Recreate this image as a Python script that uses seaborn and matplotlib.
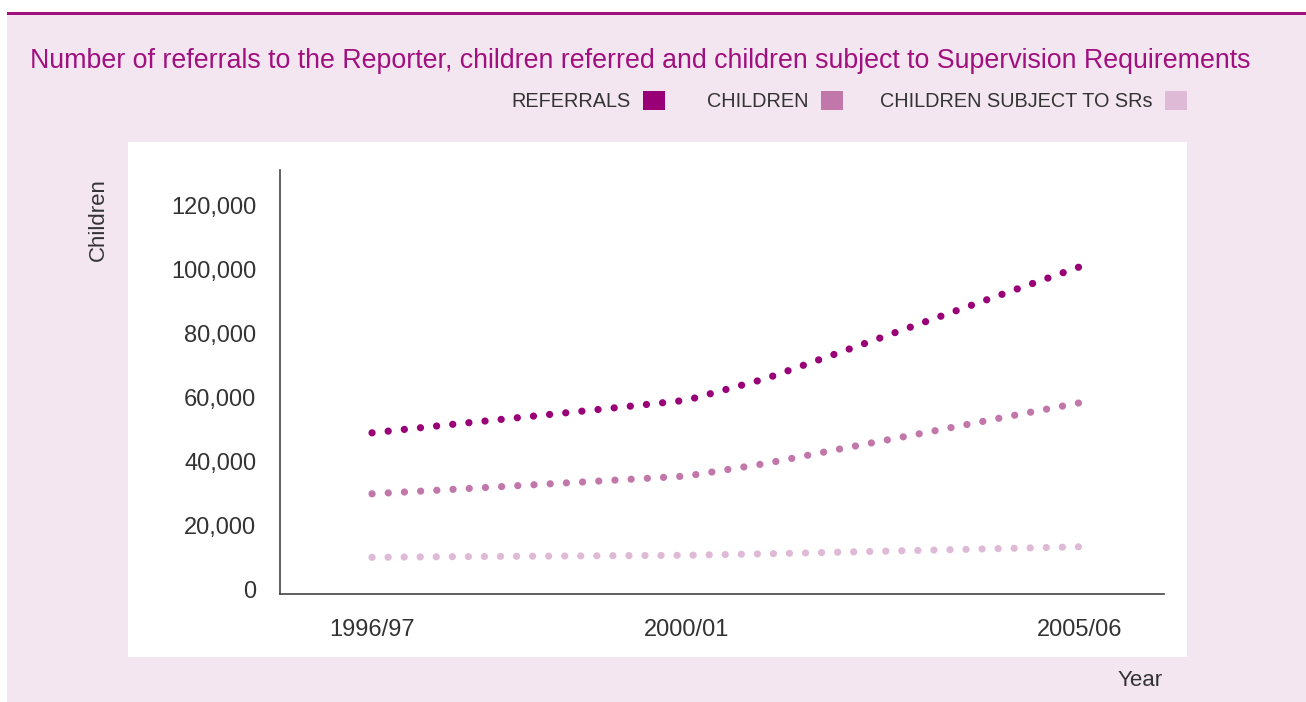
import numpy as np
import pandas as pd
import seaborn as sns
import matplotlib.pyplot as plt
from matplotlib.patches import Rectangle, Patch

# Values (one per year)
years = ['1996/97', '1997/98', '1998/99', '1999/00', '2000/01',
         '2001/02', '2002/03', '2003/04', '2004/05', '2005/06']
referrals = [48800, 51400, 53900, 56400, 59000, 65700, 74400, 83200, 92000, 100700]
children = [29750, 31100, 32500, 33900, 35300, 39200, 44000, 48700, 53500, 58200]
children_srs = [9900, 10100, 10250, 10400, 10550, 11000, 11550, 12100, 12650, 13200]

series_names = ['REFERRALS', 'CHILDREN', 'CHILDREN SUBJECT TO SRs']
colors = ['#990077', '#C277AA', '#DEBAD7']
shown_years = ['1996/97', '2000/01', '2005/06']

df = pd.DataFrame({
    'idx': list(range(len(years))) * 3,
    'value': referrals + children + children_srs,
    'series': [s for s in series_names for _ in years],
})

sns.set_style('white')
plt.rcParams['font.family'] = ['Liberation Sans', 'DejaVu Sans']

W, H = 1306, 702
DPI = 100
fig = plt.figure(figsize=(W / DPI, H / DPI), dpi=DPI)
fig.patch.set_facecolor('white')

# background panels (kept below the axes)
fig.patches.append(Rectangle((7 / W, 0), 1 - 7 / W, 1 - 12 / H, transform=fig.transFigure,
                             facecolor='#F3E6F1', edgecolor='none', zorder=-3))
fig.patches.append(Rectangle((7 / W, 1 - 15 / H), 1 - 7 / W, 3 / H, transform=fig.transFigure,
                             facecolor='#A0107F', edgecolor='none', zorder=-2))
fig.patches.append(Rectangle((128 / W, 1 - 657 / H), (1187 - 128) / W, (657 - 142) / H,
                             transform=fig.transFigure, facecolor='white', edgecolor='none', zorder=-2))

ax = fig.add_axes([280 / W, 1 - 594 / H, (1164 - 280) / W, (594 - 170) / H])
ax.patch.set_alpha(0)

lw = 5.2
sns.lineplot(data=df, x='idx', y='value', hue='series', hue_order=series_names,
             palette=dict(zip(series_names, colors)), legend=False, ax=ax, linewidth=lw)

ax.set_xlim(-1.17, 10.07)
ax.set_ylim(-1560, 130940)

# dotted style: spread the dots so each line starts and ends on a dot
lw_px = lw * DPI / 72
for line in ax.lines:
    pts = ax.transData.transform(np.column_stack(line.get_data()))
    length = np.hypot(*np.diff(pts, axis=0).T).sum() - 1.5
    n = max(1, round(length / 16.1))
    step = length / n / lw_px
    line.set_linestyle((0, (0.01, step - 0.01)))
    line.set_dash_capstyle('round')

ax.set_xticks([years.index(y) for y in shown_years])
ax.set_xticklabels(shown_years)
ax.set_yticks(range(0, 120001, 20000))
ax.set_yticklabels([f'{v:,}' for v in range(0, 120001, 20000)])
ax.tick_params(axis='both', length=0, labelsize=17, labelcolor='#333333')
ax.tick_params(axis='y', pad=17)
ax.tick_params(axis='x', pad=18)
ax.set_xlabel('')
ax.set_ylabel('')
sns.despine(ax=ax)
for side in ['left', 'bottom']:
    ax.spines[side].set_color('#444444')
    ax.spines[side].set_linewidth(1.2)

fig.text(30 / W, 1 - 61 / H, 'Number of referrals to the Reporter, children referred and children subject to Supervision Requirements',
         color='#A0107F', fontsize=19.27, va='center', ha='left')
fig.text(98 / W, 1 - 220 / H, 'Children', rotation=90, fontsize=16, color='#333333',
         va='center', ha='center')
fig.text(1163 / W, 1 - 681 / H, 'Year', fontsize=16, color='#333333', va='center', ha='right')

# legend: one entry per block, text before the square
legend_right = [665, 843, 1187]
for name, c, xr in zip(series_names, colors, legend_right):
    fig.legend(handles=[Patch(facecolor=c, edgecolor='none', label=name)],
               loc='center right', bbox_to_anchor=(xr / W, 1 - 101 / H),
               frameon=False, markerfirst=False, fontsize=14.3,
               handlelength=1.12, handleheight=1.12, handletextpad=0.6,
               borderpad=0, borderaxespad=0, labelcolor='#333333')

fig.savefig('out.png', dpi=DPI)
